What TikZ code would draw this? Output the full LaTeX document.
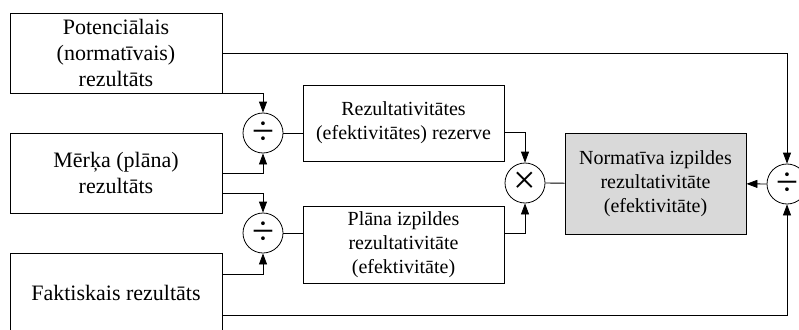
\documentclass[tikz,border=0pt]{standalone}
\usepackage{fontspec}
\setmainfont{Liberation Serif}
\usetikzlibrary{arrows.meta, positioning, calc}
\definecolor{normgray}{RGB}{217,217,217}

\begin{document}
\begin{tikzpicture}[
    x=1pt, y=-1pt,
    inbox/.style={rectangle, draw, line width=0.8pt, minimum width=212pt, minimum height=80pt, align=center, font=\rmfamily\fontsize{22}{26}\selectfont},
    midbox/.style={rectangle, draw, line width=0.8pt, minimum width=201pt, minimum height=76pt, align=center, font=\rmfamily\fontsize{20}{24}\selectfont},
    op/.style={circle, draw, line width=0.8pt, minimum size=40pt, inner sep=0pt, font=\rmfamily\fontsize{40}{40}\selectfont},
    arrow/.style={-{Triangle[length=11pt, width=8pt]}, line width=0.8pt},
    link/.style={line width=0.8pt},
]
\useasboundingbox (0,0) rectangle (799,329);
\clip (0,0) rectangle (799,329);

% Input results
\node[inbox] (pot) at (116,53) {Potenciālais\\(normatīvais)\\rezultāts};
\node[inbox] (merk) at (116,173) {Mērķa (plāna)\\rezultāts};
\node[inbox] (fakt) at (116,293) {Faktiskais rezultāts};

% Operations
\node[op] (div1) at (263,133) {÷};
\node[op] (div2) at (263,233) {÷};
\node[op] (mul) at (525,183) {×};
\node[op] (div3) at (787,184) {÷};

% Intermediate results
\node[midbox] (rez) at (403.5,123) {Rezultativitātes\\(efektivitātes) rezerve};
\node[midbox, minimum height=77pt] (plan) at (403.5,244.5) {Plāna izpildes\\rezultativitāte\\(efektivitāte)};
\node[midbox, fill=normgray, minimum width=181pt, minimum height=101pt] (norm) at (655.5,183.5) {Normatīva izpildes\\rezultativitāte\\(efektivitāte)};

\draw[arrow] (pot.east) -| (div3);
\draw[arrow] (pot.south east) -| (div1);
\draw[arrow] (merk.east) -| (div1);
\draw[arrow] ([yshift=-20pt]merk.east) -| (div2);
\draw[arrow] ([yshift=19pt]fakt.east) -| (div2);
\draw[arrow] ([yshift=-22pt]fakt.east) -| (div3);

\draw[link] (div1) -- (div1 -| rez.west);
\draw[link] (div2) -- (div2 -| plan.west);
\draw[arrow] ([yshift=-9pt]rez.east) -| (mul);
\draw[arrow] ([yshift=11.5pt]plan.east) -| (mul);
\draw[link] (mul) -- (norm);
\draw[arrow] (div3) -- (norm);

\end{tikzpicture}
\end{document}
